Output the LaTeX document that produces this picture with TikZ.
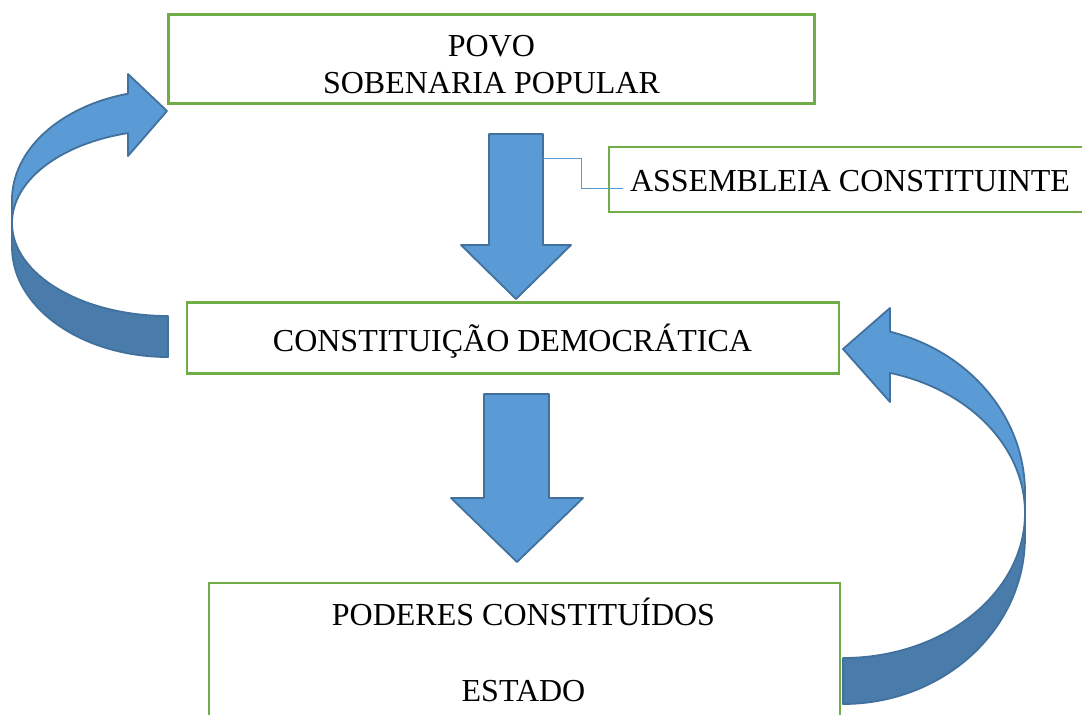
\documentclass[tikz,border=0pt]{standalone}
\usepackage{fontspec}
\setmainfont{Liberation Serif}
\definecolor{boxgreen}{HTML}{70AD47}
\definecolor{arrowfill}{HTML}{5B9BD5}
\definecolor{arrowdark}{HTML}{497CAA}
\definecolor{arrowline}{HTML}{41719C}
\definecolor{linkblue}{HTML}{5B9BD5}
\begin{document}
\begin{tikzpicture}[x=1pt,y=-1pt,
  box/.style={draw=boxgreen, line width=2.2pt, rectangle, inner sep=0pt, outer sep=0pt},
  txt/.style={font=\fontsize{32}{38}\selectfont, inner sep=0pt, anchor=base},
  arrowbody/.style={fill=arrowfill, draw=arrowline, line width=1.8pt, line join=round},
  arrowshade/.style={fill=arrowdark, draw=arrowline, line width=1.8pt, line join=round},
  link/.style={draw=linkblue, line width=1pt}]
\clip (0,0) rectangle (1082,715);
\fill[white] (0,0) rectangle (1082,715);

% boxes
\node[box, minimum width=646pt, minimum height=89pt] (povo) at (491.5,59) {};
\node[box, minimum width=500pt, minimum height=65pt] (asm) at (859,179.5) {};
\node[box, minimum width=652pt, minimum height=71pt] (cd) at (513,338) {};
\node[box, minimum width=631pt, minimum height=200pt] (pod) at (524.5,683) {};

% texts
\node[txt] (t1) at (491.5,56) {POVO};
\node[txt] (t2) at (491.5,93) {SOBENARIA POPULAR};
\node[txt] (t3) at (850,191) {ASSEMBLEIA CONSTITUINTE};
\node[txt] (t4) at (512.5,351) {CONSTITUIÇÃO DEMOCRÁTICA};
\node[txt] (t5) at (523.5,625) {PODERES CONSTITUÍDOS};
\node[txt] (t6) at (523.5,701) {ESTADO};

% straight down arrows
\draw[arrowbody] (489,134) -- (543,134) -- (543,245) -- (571,245) -- (516,299) -- (461,245) -- (489,245) -- cycle;
\draw[arrowbody] (484,394) -- (549,394) -- (549,498) -- (583,498) -- (517,562) -- (451,498) -- (484,498) -- cycle;

% connector to ASSEMBLEIA
\coordinate (l1) at (543,158);
\coordinate (l2) at (623,188);
\draw[link] (l1) -- (581,158) -- (581,188) -- (l2);

% left curved arrow
\draw[arrowshade] (12,223) -- (12,247) arc[start angle=180, end angle=90, x radius=156, y radius=110]
  -- (168,316) arc[start angle=90, end angle=180, x radius=156, y radius=93] -- cycle;
\draw[arrowbody] (128,93.7) arc[start angle=255.14, end angle=180, x radius=156, y radius=110]
  -- (12,223) arc[start angle=180, end angle=255.14, x radius=156, y radius=93]
  -- (128,156) -- (167,111) -- (128,74) -- cycle;

% right curved arrow
\draw[arrowshade] (1025,513) -- (1025,537) arc[start angle=0, end angle=90, x radius=182, y radius=167]
  -- (843,658) arc[start angle=90, end angle=0, x radius=182, y radius=145] -- cycle;
\draw[arrowbody] (890,331.7) arc[start angle=-75.04, end angle=0, x radius=182, y radius=167]
  -- (1025,513) arc[start angle=0, end angle=-75.04, x radius=182, y radius=145]
  -- (890,402) -- (843,349) -- (890,308) -- cycle;
\end{tikzpicture}
\end{document}
